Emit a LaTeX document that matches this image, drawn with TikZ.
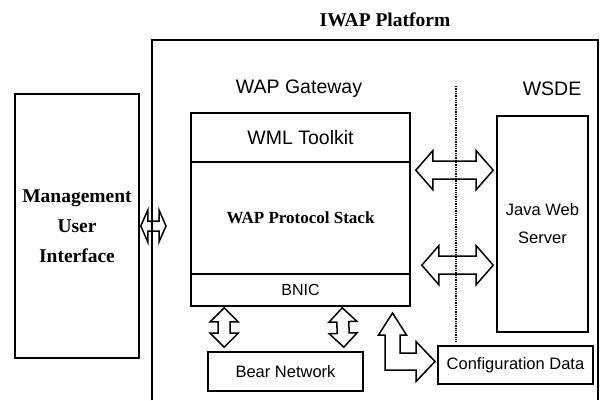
\documentclass[tikz,border=0pt]{standalone}
\usepackage{fontspec}
\setmainfont{Liberation Serif}
\setsansfont{Liberation Sans}
\usepackage{tikz}
\usetikzlibrary{calc}

\begin{document}
\begin{tikzpicture}[x=1pt,y=-1pt,
box/.style={draw,line width=1.6pt,inner sep=0pt},
sfbig/.style={font=\sffamily\fontsize{19.5}{24}\selectfont},
sflbl/.style={font=\sffamily\fontsize{16.5}{28}\selectfont},
bflbl/.style={font=\bfseries\fontsize{19.5}{30}\selectfont},
blockarr/.style n args={3}{line width=1.5pt,line join=miter,to path={
 let \p1=(\tikztostart),\p2=(\tikztotarget),
 \n1={veclen(\x2-\x1,\y2-\y1)},\n2={atan2(\y2-\y1,\x2-\x1)} in
 {[shift={(\p1)},rotate=\n2]
 (0,0) -- (#1,#2) -- (#1,#3) -- (\n1-#1,#3) -- (\n1-#1,#2) -- (\n1,0)
 -- (\n1-#1,-#2) -- (\n1-#1,-#3) -- (#1,-#3) -- (#1,-#2) -- cycle}}}]
\useasboundingbox (0,0) rectangle (605,400);

\node (title) at (385,20) [bflbl] {IWAP Platform};
\draw[line width=1.6pt] (152,400) -- (152,40) -- (598,40) -- (598,400);
\draw[densely dotted,line width=1.3pt] (456,86) -- (456,342);

\node (mgmt) at (77,226) [box,bflbl,align=center,minimum width=124,minimum height=264] {Management\\User\\Interface};
\node (gwlbl) at (299,89) [sfbig] {WAP Gateway};
\node (wsde) at (552,89) [sfbig] {WSDE};
\node (wml) at (300.5,137.5) [box,sfbig,minimum width=219,minimum height=49] {WML Toolkit};
\node (wps) at (300.5,218) [box,bflbl,font=\bfseries\fontsize{17}{20}\selectfont,minimum width=219,minimum height=112] {WAP Protocol Stack};
\node (bnic) at (300.5,290) [box,sflbl,font=\sffamily\fontsize{16}{20}\selectfont,minimum width=219,minimum height=32] {BNIC};
\node (java) at (542.5,224) [box,sflbl,align=center,minimum width=91,minimum height=216] {Java Web\\Server};
\node (bear) at (285.5,371.5) [box,sflbl,minimum width=155,minimum height=39] {Bear Network};
\node (conf) at (515.5,365) [box,sflbl,minimum width=155,minimum height=38] {Configuration Data};
\coordinate (uiend) at (166,226);

\draw[blockarr={7}{16}{5}] ($(mgmt.east)+(1,0)$) to (uiend);
\draw[blockarr={17}{19.5}{9}] ($(wps.north east)+(5,9)$) to ($(java.north west)+(-3,55)$);
\draw[blockarr={17}{19.5}{9}] ($(bnic.north east)+(11,-8)$) to ($(java.north west)+(-3,150)$);
\draw[blockarr={14}{14}{6}] ($(bnic.south west)+(34,1)$) to ($(bear.north west)+(17,-4)$);
\draw[blockarr={14}{14}{6}] ($(bnic.south west)+(152,1)$) to ($(bear.north east)+(-20,-4)$);
\draw[line width=1.5pt] (392.5,313) -- (406.5,335) -- (400,335) -- (400,353) -- (416,353)
 -- (416,341.5) -- (435,361.5) -- (416,381.5) -- (416,370) -- (385,370) -- (385,335)
 -- (378.5,335) -- cycle;
\end{tikzpicture}
\end{document}
